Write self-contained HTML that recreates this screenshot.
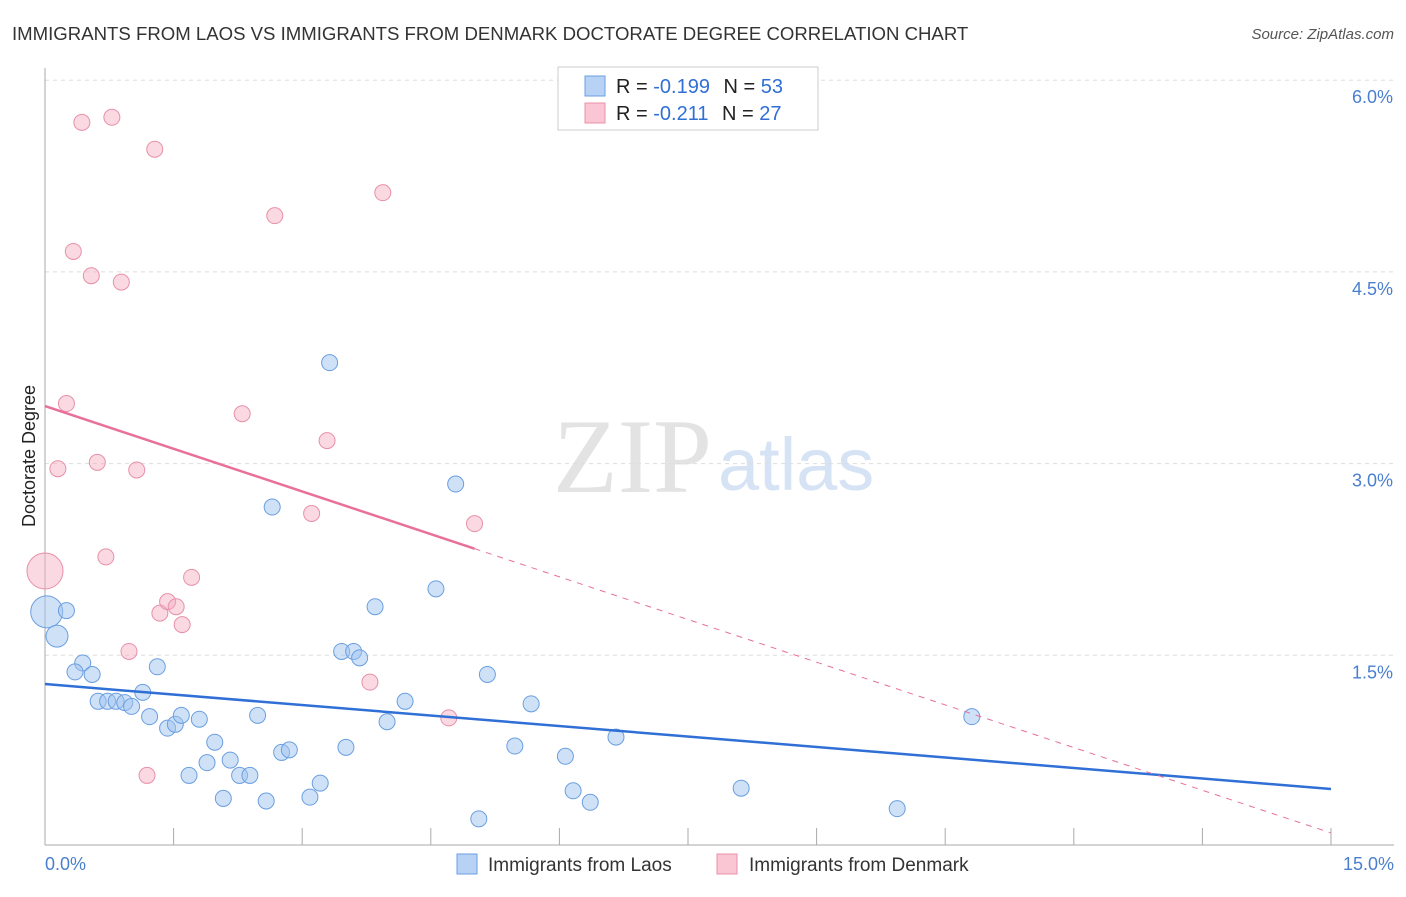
<!DOCTYPE html>
<html><head><meta charset="utf-8">
<style>
body{margin:0;background:#fff;font-family:"Liberation Sans",sans-serif;}
svg text{font-family:"Liberation Sans",sans-serif;}
</style></head>
<body>
<svg id="chart" width="1406" height="892">
<text x="12" y="40" font-size="18.6" fill="#333">IMMIGRANTS FROM LAOS VS IMMIGRANTS FROM DENMARK DOCTORATE DEGREE CORRELATION CHART</text>
<text x="1394" y="39" font-size="15" fill="#555" font-style="italic" text-anchor="end">Source: ZipAtlas.com</text>
<text x="35" y="456" font-size="18" fill="#222" text-anchor="middle" transform="rotate(-90 35 456)">Doctorate Degree</text>
<text x="553" y="492" font-size="106" fill="#e3e3e3" style="font-family:'Liberation Serif',serif">ZIP</text>
<text x="718" y="490" font-size="74" fill="#d5e3f5">atlas</text>
<g id="grid"></g>
<g id="axes"></g>
<g id="pts"></g>
<g id="trends"></g>
<g>
<rect x="558" y="67" width="260" height="63" fill="#fff" stroke="#ccc"/>
<rect x="585" y="76" width="20" height="20" fill="#b8d2f5" stroke="#6a9fe0"/>
<rect x="585" y="103" width="20" height="20" fill="#fac6d4" stroke="#e890a8"/>
<text x="616" y="93" font-size="20" fill="#222">R = <tspan fill="#2f6fd6">-0.199</tspan>   <tspan dx="8">N = </tspan><tspan fill="#2f6fd6">53</tspan></text>
<text x="616" y="120" font-size="20" fill="#222">R =  <tspan fill="#2f6fd6">-0.211</tspan>   <tspan dx="8">N = </tspan><tspan fill="#2f6fd6">27</tspan></text>
</g>
<g>
<rect x="457" y="854" width="20" height="20" fill="#b8d2f5" stroke="#6a9fe0"/>
<text x="488" y="871" font-size="19" fill="#333">Immigrants from Laos</text>
<rect x="717" y="854" width="20" height="20" fill="#fac6d4" stroke="#e890a8"/>
<text x="749" y="871" font-size="19" fill="#333">Immigrants from Denmark</text>
</g>
</svg>
<script>
const blueX=[.02,.25,.14,.44,.35,.55,.62,.73,.83,.93,1.01,1.14,1.22,1.31,1.43,1.52,1.59,1.80,1.68,1.89,1.98,2.16,2.08,2.27,2.39,2.48,2.58,2.65,2.76,2.85,3.09,3.21,3.32,3.46,3.51,3.60,3.67,3.85,3.99,4.20,4.56,4.79,5.06,5.16,5.48,5.67,6.07,6.16,6.36,6.66,8.12,9.94,10.81];
const blueY=[1.84,1.85,1.65,1.44,1.37,1.35,1.14,1.14,1.14,1.13,1.10,1.21,1.02,1.41,.93,.96,1.03,1.00,.56,.66,.82,.68,.38,.56,.56,1.03,.36,2.66,.74,.76,.39,.50,3.79,1.53,.78,1.53,1.48,1.88,.98,1.14,2.02,2.84,.22,1.35,.79,1.12,.71,.44,.35,.86,.46,.30,1.02];
const pinkX=[0,.25,.15,.33,.43,.54,.78,.89,.61,1.07,.71,.98,1.19,1.28,1.34,1.43,1.53,1.60,1.71,2.30,2.68,3.11,3.29,3.79,3.94,4.71,5.01];
const pinkY=[2.16,3.47,2.96,4.66,5.67,4.47,5.71,4.42,3.01,2.95,2.27,1.53,.56,5.46,1.83,1.92,1.88,1.74,2.11,3.39,4.94,2.61,3.18,1.29,5.12,1.01,2.53];
const yTicks=[1.5,3.0,4.5,6.0];
const yTickLabels=["1.5%","3.0%","4.5%","6.0%"];
const blueTrend=[1.275,0.454];
const pinkTrend=[3.45,0.11];
const pinkSolidEnd=5.01;
const NS="http://www.w3.org/2000/svg";
const sx=v=>45+v/15*1286;
const sy=v=>847-v*127.8;
function mk(tag,parent,attrs){const e=document.createElementNS(NS,tag);for(const k in attrs)e.setAttribute(k,attrs[k]);parent.appendChild(e);return e;}
const grid=document.getElementById('grid'),axes=document.getElementById('axes');
yTicks.forEach((t,i)=>{
 const l=mk('line',grid,{x1:45,x2:1394,y1:sy(t),y2:sy(t),stroke:'#ddd','stroke-dasharray':'4,4'});
 
 
 const tx=mk('text',axes,{x:1393,y:sy(t)+23,'font-size':18,fill:'#4a7fd0','text-anchor':'end'});
 tx.textContent=yTickLabels[i];
 
 
});
const ax=mk('line',axes,{x1:45,x2:1394,y1:845,y2:845,stroke:'#aaa'});


const ay=mk('line',axes,{x1:45,x2:45,y1:68,y2:845,stroke:'#aaa'});


for(let i=0;i<=10;i++){const t=mk('line',axes,{x1:sx(i*1.5),x2:sx(i*1.5),y1:828,y2:845,stroke:'#aaa'});
 
 }
[[0,"0.0%","start",45],[15,"15.0%","end",1394]].forEach(a=>{const t=mk('text',axes,{x:a[3],y:870,'font-size':18,fill:'#4a7fd0','text-anchor':a[2]});t.textContent=a[1];
 
 });
const pts=document.getElementById('pts');
pinkX.forEach((x,i)=>{const c=mk('circle',pts,{cx:sx(x),cy:sy(pinkY[i]),r:i==0?18:8,fill:'rgba(245,170,192,0.45)',stroke:'#e890a8','stroke-width':1});
 
 });
blueX.forEach((x,i)=>{const c=mk('circle',pts,{cx:sx(x),cy:sy(blueY[i]),r:i==0?16:(i==2?11:8),fill:'rgba(160,195,240,0.5)',stroke:'#6a9fe0','stroke-width':1});
 
 });
const tr=document.getElementById('trends');
const bl=mk('line',tr,{x1:sx(0),y1:sy(blueTrend[0]),x2:sx(15),y2:sy(blueTrend[1]),stroke:'#2f6fd6','stroke-width':2.5});


const pAt=x=>pinkTrend[0]+(pinkTrend[1]-pinkTrend[0])*x/15;
const ps=mk('line',tr,{x1:sx(0),y1:sy(pinkTrend[0]),x2:sx(pinkSolidEnd),y2:sy(pAt(pinkSolidEnd)),stroke:'#e8709a','stroke-width':2.5});


const pd=mk('line',tr,{x1:sx(pinkSolidEnd),y1:sy(pAt(pinkSolidEnd)),x2:sx(15),y2:sy(pinkTrend[1]),stroke:'#e8709a','stroke-width':1,'stroke-dasharray':'6,6'});


</script>
</body></html>
